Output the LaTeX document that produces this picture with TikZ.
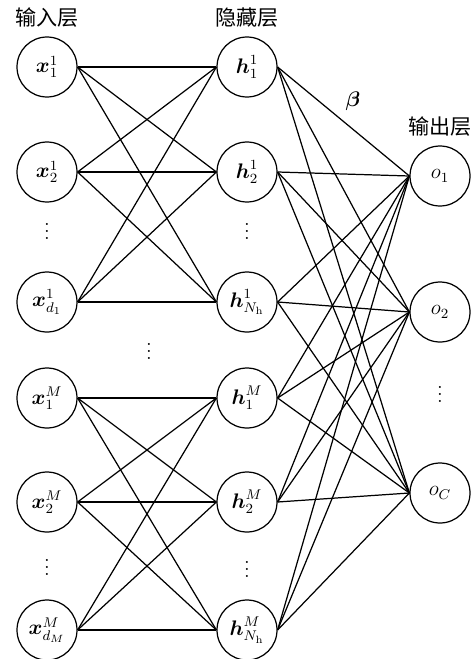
\documentclass[tikz,border=0pt]{standalone}
\usepackage{amsmath}
\usepackage{fontspec}
\newfontfamily\cjk{Noto Sans CJK SC}
\usepackage{tikz}
\usetikzlibrary{positioning}
\tikzset{
  neuron/.style={circle, draw=black, minimum size=1.2cm, inner sep=0pt,
    font=\large, line width=0.7pt},
  dotsnode/.style={font=\large, inner sep=0pt},
  layerlabel/.style={font=\large\cjk, inner sep=0pt},
  link/.style={line width=0.7pt, color=black}
}

\begin{document}
\begin{tikzpicture}[x=0.02cm, y=-0.02cm]
  \useasboundingbox (0,0) rectangle (473,659);
  % input layer
  \node[neuron] (x11) at (47,67) {$\boldsymbol{x}_1^1$};
  \node[neuron] (x21) at (47,172) {$\boldsymbol{x}_2^1$};
  \node[dotsnode] (xv1) at (47,226) {$\vdots$};
  \node[neuron] (xd1) at (47,302) {$\boldsymbol{x}_{d_1}^1$};
  \node[neuron] (x1M) at (47,398) {$\boldsymbol{x}_1^M$};
  \node[neuron] (x2M) at (47,502) {$\boldsymbol{x}_2^M$};
  \node[dotsnode] (xvM) at (47,562) {$\vdots$};
  \node[neuron] (xdM) at (47,630) {$\boldsymbol{x}_{d_M}^M$};
  % hidden layer
  \node[neuron] (h11) at (247,67) {$\boldsymbol{h}_1^1$};
  \node[neuron] (h21) at (247,172) {$\boldsymbol{h}_2^1$};
  \node[dotsnode] (hv1) at (247,226) {$\vdots$};
  \node[neuron] (hN1) at (247,302) {$\boldsymbol{h}_{N_\mathrm{h}}^1$};
  \node[neuron] (h1M) at (247,398) {$\boldsymbol{h}_1^M$};
  \node[neuron] (h2M) at (247,502) {$\boldsymbol{h}_2^M$};
  \node[dotsnode] (hvM) at (247,564) {$\vdots$};
  \node[neuron] (hNM) at (247,630) {$\boldsymbol{h}_{N_\mathrm{h}}^M$};
  \node[dotsnode] (midv) at (149,346) {$\vdots$};
  % output layer
  \node[neuron] (o1) at (440,176) {$o_1$};
  \node[neuron] (o2) at (440,312) {$o_2$};
  \node[dotsnode] (ov) at (440,389) {$\vdots$};
  \node[neuron] (oC) at (440,493) {$o_C$};
  % layer names
  \node[layerlabel, above=0.18cm of x11] (inlbl) {输入层};
  \node[layerlabel, above=0.18cm of h11] (hidlbl) {隐藏层};
  \node[layerlabel, above=0.18cm of o1] (outlbl) {输出层};
  \node[font=\large] (beta) at (353,101) {$\boldsymbol{\beta}$};
  % connections
  \foreach \a in {x11,x21,xd1}
    \foreach \b in {h11,h21,hN1}
      \draw[link] (\a.east) -- (\b.west);
  \foreach \a in {x1M,x2M,xdM}
    \foreach \b in {h1M,h2M,hNM}
      \draw[link] (\a.east) -- (\b.west);
  \foreach \a in {h11,h21,hN1,h1M,h2M,hNM}
    \foreach \b in {o1,o2,oC}
      \draw[link] (\a.east) -- (\b.west);
\end{tikzpicture}
\end{document}
